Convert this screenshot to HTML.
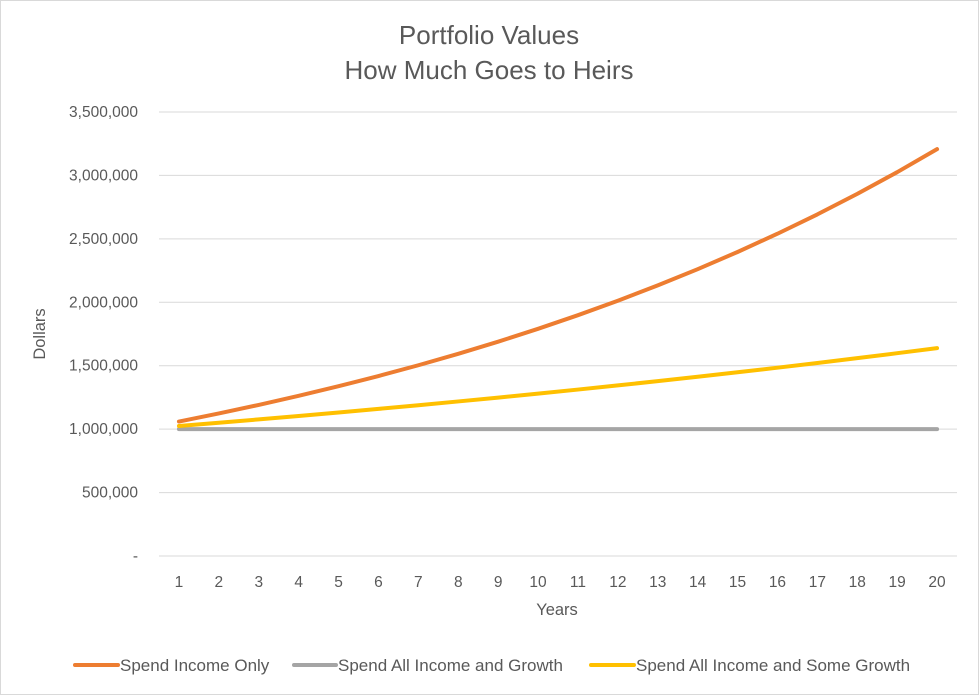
<!DOCTYPE html>
<html><head><meta charset="utf-8"><style>
body{margin:0;background:#fff;}
svg text{font-family:"Liberation Sans",sans-serif;fill:#595959;}
</style></head><body>
<svg width="979" height="695" viewBox="0 0 979 695" xmlns="http://www.w3.org/2000/svg">
<rect x="0.5" y="0.5" width="978" height="694" fill="#fff" stroke="#d9d9d9"/>
<text x="489" y="44" font-size="26" text-anchor="middle">Portfolio Values</text>
<text x="489" y="79" font-size="26" text-anchor="middle">How Much Goes to Heirs</text>
<g id="grid"></g>
<g id="yticks"></g>
<g id="xticks"></g>
<g id="series"></g>
<text transform="translate(45,334) rotate(-90)" font-size="16.5" text-anchor="middle">Dollars</text>
<text x="557" y="615" font-size="16.5" text-anchor="middle">Years</text>
<g font-size="17">
<g><line x1="75" y1="665" x2="118" y2="665" stroke="#ed7d31" stroke-width="4" stroke-linecap="round"/><text x="120" y="671">Spend Income Only</text></g>
<g><line x1="294" y1="665" x2="336" y2="665" stroke="#a5a5a5" stroke-width="4" stroke-linecap="round"/><text x="338" y="671">Spend All Income and Growth</text></g>
<g><line x1="591" y1="665" x2="634" y2="665" stroke="#ffc000" stroke-width="4" stroke-linecap="round"/><text x="636" y="671">Spend All Income and Some Growth</text></g>
</g>
</svg>
<script>
const categories=[1,2,3,4,5,6,7,8,9,10,11,12,13,14,15,16,17,18,19,20];
const yTicks=[0,500000,1000000,1500000,2000000,2500000,3000000,3500000];
const yTickLabels=["-","500,000","1,000,000","1,500,000","2,000,000","2,500,000","3,000,000","3,500,000"];
const spendIncomeOnly=[1060000,1123600,1191016,1262477,1338226,1418519,1503630,1593848,1689479,1790848,1898299,2012196,2132928,2260904,2396558,2540352,2692773,2854339,3025600,3207135];
const spendAllIncomeAndGrowth=[1000000,1000000,1000000,1000000,1000000,1000000,1000000,1000000,1000000,1000000,1000000,1000000,1000000,1000000,1000000,1000000,1000000,1000000,1000000,1000000];
const spendAllIncomeSomeGrowth=[1025000,1050625,1076891,1103813,1131408,1159693,1188686,1218403,1248863,1280085,1312087,1344889,1378511,1412974,1448298,1484506,1521618,1559659,1598650,1638616];
const NS="http://www.w3.org/2000/svg";
const L=159,R=957,T=112,B=556,yMax=3500000;
const xs=i=>L+(R-L)/categories.length*(i+0.5);
const ys=v=>B-(B-T)*v/yMax;
function mk(tag,attrs,parent){const e=document.createElementNS(NS,tag);for(const k in attrs)e.setAttribute(k,attrs[k]);parent.appendChild(e);return e;}
const grid=document.getElementById('grid'),yt=document.getElementById('yticks'),xt=document.getElementById('xticks'),sg=document.getElementById('series');
yTicks.forEach((v,i)=>{
 const l=mk('line',{x1:L,x2:R,y1:ys(v),y2:ys(v),stroke:'#d9d9d9','stroke-width':1},grid);
 
 
 const t=mk('text',{x:138,y:ys(v)+5,'font-size':15.5,'text-anchor':'end'},yt);
 t.textContent=yTickLabels[i];
 
 
});
categories.forEach((c,i)=>{
 const t=mk('text',{x:xs(i),y:587,'font-size':15.5,'text-anchor':'middle'},xt);
 t.textContent=c;
 
 
});
[[spendAllIncomeAndGrowth,'#a5a5a5','line-spend-all-income-and-growth'],[spendAllIncomeSomeGrowth,'#ffc000','line-spend-all-income-some-growth'],[spendIncomeOnly,'#ed7d31','line-spend-income-only']].forEach(([d,c,n])=>{
 const p=mk('polyline',{points:d.map((v,i)=>xs(i)+','+ys(v)).join(' '),fill:'none',stroke:c,'stroke-width':4,'stroke-linecap':'round','stroke-linejoin':'round'},sg);
 
 
});
</script>
</body></html>
